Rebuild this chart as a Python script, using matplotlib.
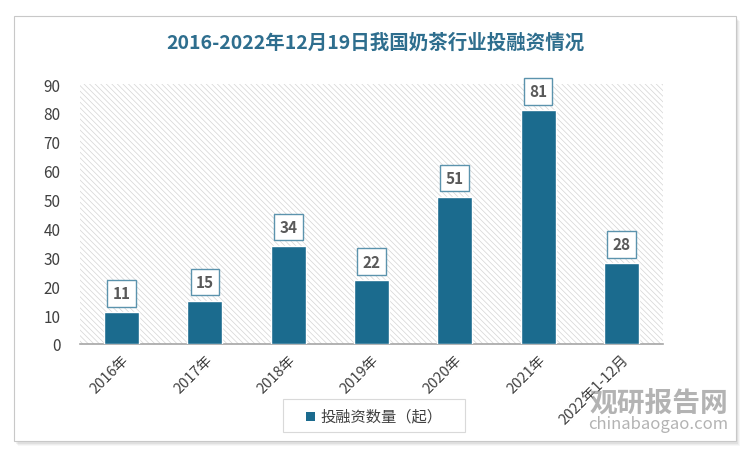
import matplotlib.pyplot as plt
from matplotlib.patches import Rectangle
import matplotlib as mpl

plt.rcParams['font.family'] = ['Noto Sans CJK SC', 'DejaVu Sans']
mpl.rcParams['hatch.linewidth'] = 0.5
mpl.rcParams['hatch.color'] = '#d4d4d4'

# data
years = ['2016年', '2017年', '2018年', '2019年', '2020年', '2021年', '2022年1-12月']
counts = [11, 15, 34, 22, 51, 81, 28]
yticks = [0, 10, 20, 30, 40, 50, 60, 70, 80, 90]

bar_color = '#1b6b8e'
title_color = '#2e6e8e'

fig = plt.figure(figsize=(7.5, 4.6), dpi=100)
W, H = 750, 460

# card with shadow
for i, a in enumerate([0.05, 0.04, 0.03]):
    fig.patches.append(Rectangle(((14 + 2 + i) / W, (460 - 442 - 3 - i) / H), 722 / W, 425 / H,
                                 transform=fig.transFigure, facecolor='black', alpha=a,
                                 edgecolor='none', zorder=0))
fig.patches.append(Rectangle((14 / W, (460 - 442) / H), 722 / W, 425 / H,
                             transform=fig.transFigure, facecolor='white',
                             edgecolor='#c8c8c8', linewidth=0.8, zorder=1))

ax = fig.add_axes([80 / W, (460 - 345) / H, 583 / W, 260 / H])
ax.set_zorder(2)
ax.patch.set_alpha(0)
ax.add_patch(Rectangle((-0.5, 0), 7, 90, facecolor='white', edgecolor='#d4d4d4',
                       hatch='\\\\\\\\\\\\', linewidth=0, zorder=0))

x = range(len(years))
ax.bar(x, counts, width=0.42, color=bar_color, edgecolor='white', linewidth=1, zorder=3)

for xi, v in zip(x, counts):
    ax.text(xi, v + 6.5, str(v), ha='center', va='center', fontsize=11, fontweight='bold',
            color='#595959', zorder=4,
            bbox=dict(boxstyle='square,pad=0.35', facecolor='white', edgecolor='#5b93ad', linewidth=1))

ax.set_xlim(-0.5, 6.5)
ax.set_ylim(0, 90)
ax.set_yticks(yticks)
ax.set_xticks(list(x))
ax.set_xticklabels(years, rotation=45, ha='right', rotation_mode='anchor', fontsize=10.5, color='#404040')
ax.tick_params(axis='y', length=0, labelsize=11, labelcolor='#404040', pad=14)
ax.tick_params(axis='x', length=0, pad=6)
for s in ['top', 'right', 'left']:
    ax.spines[s].set_visible(False)
ax.spines['bottom'].set_color('#a6a6a6')
ax.spines['bottom'].set_linewidth(1.2)

fig.text(375 / W, (460 - 43) / H, '2016-2022年12月19日我国奶茶行业投融资情况', ha='center', va='center',
         fontsize=14, color=title_color, fontweight='bold')

# legend
fig.patches.append(Rectangle((283 / W, (460 - 433) / H), 182 / W, 33 / H,
                             transform=fig.transFigure, facecolor='white',
                             edgecolor='#d9d9d9', linewidth=0.8, zorder=5))
fig.patches.append(Rectangle((306 / W, (460 - 422) / H), 9 / W, 9 / H,
                             transform=fig.transFigure, facecolor=bar_color,
                             edgecolor='none', zorder=6))
fig.text(320 / W, (460 - 417) / H, '投融资数量（起）', ha='left', va='center', fontsize=11,
         color='#404040', zorder=6)

# watermark
fig.text(728 / W, (460 - 404) / H, '观研报告网', ha='right', va='center', fontsize=20,
         fontweight='bold', color='#9a9a9a', alpha=0.75, zorder=7)
fig.text(728 / W, (460 - 425) / H, 'chinabaogao.com', ha='right', va='center', fontsize=12,
         color='#9a9a9a', alpha=0.75, zorder=7)

fig.savefig('out.png', dpi=100)
